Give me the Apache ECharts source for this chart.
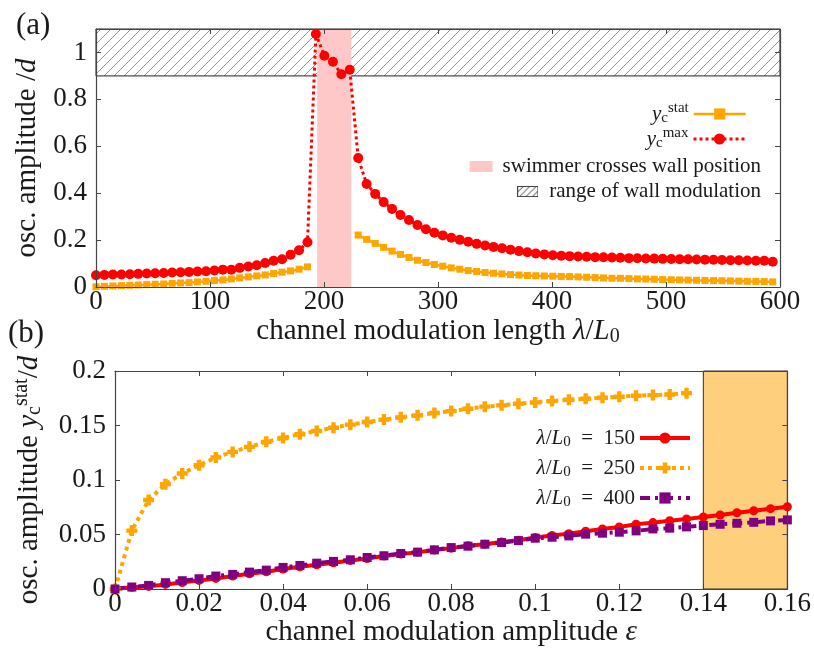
<!DOCTYPE html>
<html>
<head>
<meta charset="utf-8">
<script src="https://cdn.jsdelivr.net/npm/echarts@6/dist/echarts.min.js"></script>
<style>
	html, body { margin: 0; padding: 0; background: #fff; }
	#chart { width: 814px; height: 653px; }
</style>
</head>
<body>
<div id="chart"></div>
<script>
// (a) lambda / L0 sweep
var lambda = [0, 7.4, 14.8, 22.3, 29.7, 37.1, 44.5, 51.9, 59.4, 66.8, 74.2, 81.6, 89, 96.5, 103.9, 111.3, 118.7, 126.1, 133.6, 141,
	148.4, 155.8, 163.2, 170.7, 178.1, 185.5, 192.9, 200.3, 207.8, 215.2, 222.6, 230, 237.4, 244.9, 252.3, 259.7, 267.1, 274.5, 282, 289.4,
	296.8, 304.2, 311.6, 319.1, 326.5, 333.9, 341.3, 348.7, 356.2, 363.6, 371, 378.4, 385.8, 393.3, 400.7, 408.1, 415.5, 422.9, 430.4, 437.8,
	445.2, 452.6, 460, 467.5, 474.9, 482.3, 489.7, 497.1, 504.6, 512, 519.4, 526.8, 534.2, 541.7, 549.1, 556.5, 563.9, 571.3, 578.8, 586.2, 593.6];
var ycStat = [0.001, 0.003, 0.0044, 0.006, 0.0073, 0.0087, 0.010, 0.0116, 0.013, 0.0159, 0.0173, 0.0187, 0.0216, 0.0244, 0.0273, 0.0301, 0.0344, 0.0387, 0.043, 0.0473,
	0.0516, 0.0573, 0.063, 0.0687, 0.0759, 0.0859, null, null, null, null, null, 0.2215, 0.203, 0.186, 0.169, 0.153, 0.139, 0.126, 0.114, 0.1045,
	0.096, 0.0887, 0.0815, 0.0757, 0.070, 0.066, 0.0617, 0.0587, 0.0557, 0.053, 0.051, 0.049, 0.048, 0.047, 0.046, 0.045, 0.0444, 0.043, 0.0416, 0.040,
	0.0387, 0.0373, 0.037, 0.0359, 0.0344, 0.034, 0.033, 0.0316, 0.031, 0.0301, 0.0295, 0.0287, 0.028, 0.0273, 0.0266, 0.0259, 0.0252, 0.0244, 0.0238, 0.023, 0.0216];
var ycMax = [0.050, 0.0516, 0.053, 0.053, 0.0544, 0.056, 0.0573, 0.0587, 0.060, 0.0616, 0.063, 0.0644, 0.0659, 0.0673, 0.070, 0.074, 0.0735, 0.0816, 0.0873, 0.093,
	0.102, 0.112, 0.118, 0.138, 0.157, 0.191, 1.079, 0.986, 0.960, 0.907, 0.926, 0.550, 0.439, 0.397, 0.362, 0.333, 0.307, 0.286, 0.264, 0.246,
	0.231, 0.220, 0.210, 0.201, 0.193, 0.184, 0.177, 0.171, 0.165, 0.159, 0.153, 0.148, 0.143, 0.139, 0.135, 0.133, 0.1316, 0.130, 0.1287, 0.1273,
	0.1266, 0.1259, 0.1244, 0.123, 0.1225, 0.1216, 0.121, 0.120, 0.1195, 0.1187, 0.118, 0.1173, 0.1166, 0.1159, 0.115, 0.1144, 0.1137, 0.113, 0.1123, 0.1116, 0.108];
var crossBand = [194, 224];
var wallBand = [0.9, 1.1];

// (b) epsilon sweep
var eps = [0, 0.004, 0.008, 0.012, 0.016, 0.02, 0.024, 0.028, 0.032, 0.036, 0.04, 0.044, 0.048, 0.052, 0.056, 0.06, 0.064, 0.068, 0.072, 0.076,
	0.08, 0.084, 0.088, 0.092, 0.096, 0.1, 0.104, 0.108, 0.112, 0.116, 0.12, 0.124, 0.128, 0.132, 0.136, 0.14, 0.144, 0.148, 0.152, 0.156, 0.16];
var y150 = [0, 0.0015, 0.0024, 0.0042, 0.006, 0.0079, 0.0097, 0.0119, 0.014, 0.0158, 0.0183, 0.0204, 0.0222, 0.024, 0.0262, 0.028, 0.0302, 0.032, 0.0338, 0.0357,
	0.0375, 0.0396, 0.0411, 0.0432, 0.0448, 0.0472, 0.049, 0.0508, 0.053, 0.0551, 0.0569, 0.0594, 0.0609, 0.0627, 0.0643, 0.0661, 0.0679, 0.070, 0.0718, 0.0737, 0.0755];
var y250 = [0, 0.0536, 0.0816, 0.0962, 0.106, 0.1136, 0.1206, 0.1258, 0.1304, 0.135, 0.1386, 0.142, 0.145, 0.148, 0.1508, 0.1532, 0.1554, 0.1575, 0.1593, 0.1614,
	0.1632, 0.1654, 0.1673, 0.1685, 0.170, 0.1712, 0.1724, 0.1736, 0.1746, 0.1755, 0.1764, 0.1773, 0.1779, 0.1785, 0.1797];
var y400 = [0, 0.0018, 0.0033, 0.0058, 0.0076, 0.0094, 0.0119, 0.0134, 0.0155, 0.0173, 0.0198, 0.0216, 0.0237, 0.0253, 0.0268, 0.0289, 0.0305, 0.0326, 0.0338, 0.0359,
	0.038, 0.0393, 0.0411, 0.0426, 0.0444, 0.0466, 0.0475, 0.0487, 0.0503, 0.0512, 0.0521, 0.0533, 0.0551, 0.0558, 0.057, 0.0582, 0.0594, 0.0603, 0.0612, 0.0625, 0.0634];
var unstableBand = [0.14, 0.16];

var F = 'Liberation Serif';
var TXT = '#1a1a1a';
var AX = '#444';

function pairs(xs, ys) {
	var out = [];
	for (var i = 0; i < ys.length; i++) {
		out.push([xs[i], ys[i]]);
	};
	return out;
};

function hatchPattern() {
	var c = document.createElement('canvas');
	c.width = 10;
	c.height = 10;
	var ctx = c.getContext('2d');
	ctx.strokeStyle = '#666';
	ctx.lineWidth = 0.7;
	ctx.beginPath();
	ctx.moveTo(-5, 5); ctx.lineTo(5, -5);
	ctx.moveTo(0, 10); ctx.lineTo(10, 0);
	ctx.moveTo(5, 15); ctx.lineTo(15, 5);
	ctx.stroke();
	return c;
};

function hatchIcon() {
	var c = document.createElement('canvas');
	c.width = 46;
	c.height = 24;
	var ctx = c.getContext('2d');
	ctx.fillStyle = '#fff';
	ctx.fillRect(0, 0, 46, 24);
	ctx.strokeStyle = '#444';
	ctx.lineWidth = 1.6;
	ctx.beginPath();
	for (var x = -24; x < 60; x += 14) {
		ctx.moveTo(x, 24); ctx.lineTo(x + 24, 0);
	};
	ctx.stroke();
	ctx.lineWidth = 2;
	ctx.strokeRect(1, 1, 44, 22);
	return 'image://' + c.toDataURL();
};

var rich = {
	n: { fontFamily: F, fontSize: 29, color: TXT },
	i: { fontFamily: F, fontSize: 29, fontStyle: 'italic', color: TXT },
	sub: { fontFamily: F, fontSize: 20, color: TXT, padding: [12, 0, 0, 0] },
	sup: { fontFamily: F, fontSize: 20, color: TXT, padding: [0, 0, 14, 0] }
};
var legRich = {
	n: { fontFamily: F, fontSize: 21, color: TXT, lineHeight: 22 },
	i: { fontFamily: F, fontSize: 21, fontStyle: 'italic', color: TXT, lineHeight: 22 },
	sub: { fontFamily: F, fontSize: 15, color: TXT, padding: [9, 0, 0, 0], lineHeight: 22 },
	sup: { fontFamily: F, fontSize: 15, color: TXT, padding: [0, 0, 11, 0], lineHeight: 22 }
};
var legendNames = {
	'stat': '{i|y}{sub|c}{sup|stat}',
	'max': '{i|y}{sub|c}{sup|max}',
	'cross': '{n|swimmer crosses wall position}',
	'wall': '{n|range of wall modulation}',
	'150': '{i|λ}{n|/}{i|L}{sub|0}{n|  =  150}',
	'250': '{i|λ}{n|/}{i|L}{sub|0}{n|  =  250}',
	'400': '{i|λ}{n|/}{i|L}{sub|0}{n|  =  400}'
};

function mainAxis(grid, pos, min, max, step, label, name, gap, extra) {
	var a = {
		type: 'value',
		gridIndex: grid,
		position: pos,
		min: min,
		max: max,
		interval: step,
		z: 4,
		axisLine: { show: true, onZero: false, lineStyle: { color: AX, width: 1.2 } },
		axisTick: { show: true, inside: true, length: 5, lineStyle: { color: AX } },
		splitLine: { show: false },
		axisLabel: {
			show: label,
			color: TXT,
			fontFamily: F,
			fontSize: 27,
			margin: (pos == 'bottom') ? 1 : 9
		}
	};
	if (name) {
		a.name = name;
		a.nameLocation = 'middle';
		a.nameGap = gap;
		a.nameTextStyle = { rich: rich };
	};
	for (var k in extra) a[k] = extra[k];
	return a;
};

function legendAt(name, right, top, align, icon) {
	var item = { name: name };
	if (icon) item.icon = icon;
	return {
		data: [item],
		orient: 'vertical',
		right: right,
		top: top,
		align: align,
		padding: 0,
		itemGap: 6,
		itemWidth: align == 'right' ? 52 : 23,
		itemHeight: align == 'right' ? 14 : 11,
		selectedMode: false,
		lineStyle: { width: 'inherit' },
		formatter: function (n) { return legendNames[n]; },
		textStyle: { rich: legRich, padding: align == 'right' ? 0 : [0, 0, 0, 5] }
	};
};

var chart = echarts.init(document.getElementById('chart'), null, { renderer: 'canvas' });

var option = {
	animation: false,
	backgroundColor: '#fff',
	title: [
		{ text: '(a)', left: 11, top: 5, textStyle: { fontFamily: F, fontSize: 31, fontWeight: 'normal', color: TXT } },
		{ text: '(b)', left: 3, top: 313, textStyle: { fontFamily: F, fontSize: 31, fontWeight: 'normal', color: TXT } }
	],
	grid: [
		{ left: 96, right: 34, top: 29, height: 258 },
		{ left: 115, right: 26, top: 371, height: 218 }
	],
	xAxis: [
		mainAxis(0, 'bottom', 0, 600, 100, true, '{n|channel modulation length }{i|λ}{n|/}{i|L}{sub|0}', 28),
		mainAxis(0, 'top', 0, 600, 100, false),
		mainAxis(1, 'bottom', 0, 0.16, 0.02, true, '{n|channel modulation amplitude }{i|ε}', 28),
		mainAxis(1, 'top', 0, 0.16, 0.02, false)
	],
	yAxis: [
		mainAxis(0, 'left', 0, 1.1, 0.2, true, '{n|osc. amplitude /}{i|d}', 52, {}),
		mainAxis(0, 'right', 0, 1.1, 0.2, false),
		mainAxis(1, 'left', 0, 0.2, 0.05, true, '{n|osc. amplitude }{i|y}{sub|c}{sup|stat}{n|/}{i|d}', 69),
		mainAxis(1, 'right', 0, 0.2, 0.05, false)
	],
	legend: [
		legendAt('stat', 67, 101, 'right'),
		legendAt('max', 67, 126, 'right'),
		legendAt('cross', 53, 156, 'left', 'rect'),
		legendAt('wall', 53, 181, 'left', hatchIcon()),
		{
			data: ['150', '250', '400'],
			orient: 'vertical',
			right: 122,
			top: 426,
			align: 'right',
			padding: 0,
			itemGap: 6,
			itemWidth: 50,
			itemHeight: 14,
			selectedMode: false,
			lineStyle: { width: 'inherit' },
			formatter: function (n) { return legendNames[n]; },
			textStyle: { rich: legRich }
		}
	],
	series: [
		{
			name: 'wall',
			type: 'line',
			xAxisIndex: 0,
			yAxisIndex: 0,
			data: [],
			z: 1,
			itemStyle: { color: '#fff' },
			markArea: {
				silent: true,
				itemStyle: { color: { image: hatchPattern(), repeat: 'repeat' }, borderColor: '#222', borderWidth: 1 },
				data: [[{ yAxis: wallBand[0] }, { yAxis: wallBand[1] }]]
			}
		},
		{
			name: 'cross',
			type: 'line',
			xAxisIndex: 0,
			yAxisIndex: 0,
			data: [],
			z: 2,
			itemStyle: { color: '#ffc8c8' },
			markArea: {
				silent: true,
				itemStyle: { color: '#ffc8c8' },
				data: [[{ xAxis: crossBand[0] }, { xAxis: crossBand[1] }]]
			}
		},
		{
			name: 'stat',
			type: 'line',
			xAxisIndex: 0,
			yAxisIndex: 0,
			z: 3,
			data: pairs(lambda, ycStat),
			connectNulls: false,
			symbol: 'rect',
			symbolSize: 7,
			itemStyle: { color: '#ffa500' },
			lineStyle: { color: '#ffa500', width: 2.5 }
		},
		{
			name: 'max',
			type: 'line',
			xAxisIndex: 0,
			yAxisIndex: 0,
			z: 3,
			data: pairs(lambda, ycMax),
			symbol: 'circle',
			symbolSize: 10,
			itemStyle: { color: '#ff0000' },
			lineStyle: { color: '#ff0000', width: 3, type: [3, 3] }
		},
		{
			name: 'unstable',
			type: 'line',
			xAxisIndex: 2,
			yAxisIndex: 2,
			data: [],
			z: 1,
			markArea: {
				silent: true,
				itemStyle: { color: '#fecf7d', borderColor: '#333', borderWidth: 1 },
				data: [[{ xAxis: unstableBand[0] }, { xAxis: unstableBand[1] }]]
			}
		},
		{
			name: '150',
			type: 'line',
			xAxisIndex: 2,
			yAxisIndex: 2,
			z: 3,
			data: pairs(eps, y150),
			symbol: 'circle',
			symbolSize: 9,
			itemStyle: { color: '#ff0000' },
			lineStyle: { color: '#ff0000', width: 4 }
		},
		{
			name: '250',
			type: 'line',
			xAxisIndex: 2,
			yAxisIndex: 2,
			z: 3,
			data: pairs(eps, y250),
			symbol: 'path://M3,0H7V3H10V7H7V10H3V7H0V3H3Z',
			symbolSize: 11,
			itemStyle: { color: '#ffa500' },
			lineStyle: { color: '#ffa500', width: 4, type: [4, 4] }
		},
		{
			name: '400',
			type: 'line',
			xAxisIndex: 2,
			yAxisIndex: 2,
			z: 3,
			data: pairs(eps, y400),
			symbol: 'rect',
			symbolSize: 9,
			itemStyle: { color: '#800080' },
			lineStyle: { color: '#800080', width: 4, type: [10, 5, 3, 5] }
		}
	]
};
option.yAxis[0].axisLabel.showMaxLabel = false;
chart.setOption(option);
</script>
</body>
</html>
